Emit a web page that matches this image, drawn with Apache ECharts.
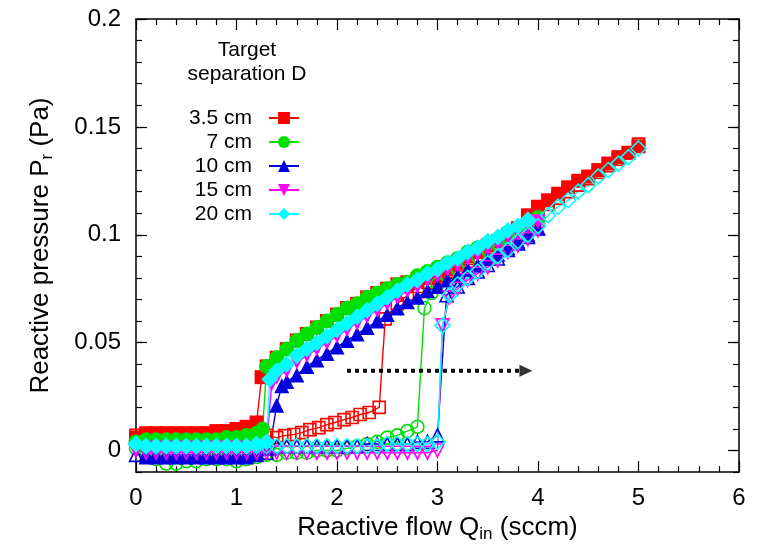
<!DOCTYPE html>
<html>
<head>
<meta charset="utf-8">
<script src="https://cdn.jsdelivr.net/npm/echarts@6/dist/echarts.min.js"></script>
<style>
  html, body { margin: 0; padding: 0; background: #fff; }
  #chart { width: 765px; height: 548px; }
</style>
</head>
<body>
<div id="chart"></div>
<script>
// Target separations (legend order) and their colours
const separations = ['3.5 cm', '7 cm', '10 cm', '15 cm', '20 cm'];
const seriesColors = ['#ff0000', '#00e000', '#0000dd', '#ff00ff', '#00ffff'];

// Axis tick values
const flowTicks = [0, 1, 2, 3, 4, 5, 6];
const pressureTicks = [0, 0.05, 0.1, 0.15, 0.2];

// [reactive flow Q_in (sccm), reactive pressure P_r (Pa)]
// "up" = increasing flow (open symbols), "down" = decreasing flow (filled symbols)
const up35 = [[0,0.007],[0.1,0.007],[0.2,0.007],[0.3,0.007],[0.4,0.007],[0.5,0.007],[0.6,0.007],[0.7,0.008],[0.8,0.008],[0.9,0.008],[1.0,0.008],[1.1,0.009],[1.2,0.009],[1.3,0.007],
  [1.40,0.006],[1.48,0.0069],[1.57,0.0074],[1.65,0.0083],[1.73,0.0097],[1.82,0.0106],[1.90,0.012],[1.98,0.013],[2.07,0.0143],[2.15,0.0153],[2.23,0.0167],[2.32,0.0176],[2.42,0.020],
  [2.48,0.061],[2.6,0.068],[2.7,0.072],[2.8,0.076],[2.9,0.078],[3.0,0.080],[3.1,0.083],[3.2,0.086],[3.3,0.089],[3.4,0.092],[3.5,0.094],[3.6,0.097],[3.7,0.100],[3.8,0.103],[3.9,0.106],
  [4.0,0.110],[4.1,0.114],[4.2,0.117],[4.3,0.120],[4.4,0.123],[4.5,0.126],[4.6,0.129],[4.7,0.132],[4.8,0.135],[4.9,0.138],[5.0,0.142]];
const down35 = [[5.0,0.141],[4.9,0.138],[4.8,0.136],[4.7,0.133],[4.6,0.130],[4.5,0.127],[4.4,0.125],[4.3,0.122],[4.2,0.119],[4.1,0.116],[4.0,0.113],[3.9,0.109],[3.8,0.103],[3.7,0.100],[3.6,0.097],[3.5,0.095],[3.4,0.092],[3.3,0.090],[3.2,0.087],[3.1,0.084],[3.0,0.081],
  [2.9,0.080],[2.8,0.079],[2.7,0.078],[2.6,0.077],[2.5,0.075],[2.4,0.073],[2.3,0.071],[2.2,0.068],[2.1,0.066],[2.0,0.063],[1.9,0.060],[1.8,0.057],[1.7,0.054],[1.6,0.051],[1.5,0.047],[1.4,0.043],[1.3,0.039],[1.25,0.034],
  [1.2,0.013],[1.1,0.011],[1.0,0.010],[0.9,0.009],[0.8,0.009],[0.7,0.008],[0.6,0.008],[0.5,0.008],[0.4,0.008],[0.3,0.008],[0.2,0.008],[0.1,0.008],[0,0.006]];

const up7 = [[0,0.001],[0.1,-0.002],[0.2,-0.004],[0.3,-0.006],[0.4,-0.006],[0.5,-0.005],[0.6,-0.005],[0.7,-0.004],[0.8,-0.004],[0.9,-0.004],[1.0,-0.005],[1.1,-0.004],[1.2,-0.003],[1.3,-0.002],
  [1.4,-0.002],[1.5,-0.001],[1.6,-0.001],[1.7,-0.001],[1.8,0.0],[1.9,0.0],[2.0,0.0],[2.1,0.001],[2.2,0.002],[2.3,0.003],[2.4,0.004],[2.5,0.006],[2.6,0.007],[2.7,0.009],[2.8,0.011],
  [2.87,0.066],[2.94,0.073],[3.0,0.077],[3.1,0.081],[3.2,0.084],[3.3,0.087],[3.4,0.090],[3.5,0.093],[3.6,0.096],[3.7,0.099],[3.8,0.101],[3.9,0.104],[4.0,0.107]];
const down7 = [[4.0,0.108],[3.9,0.105],[3.8,0.103],[3.7,0.101],[3.6,0.098],[3.5,0.096],[3.4,0.094],[3.3,0.092],[3.2,0.089],[3.1,0.087],[3.0,0.085],[2.9,0.083],[2.8,0.081],[2.7,0.078],[2.6,0.077],[2.5,0.075],
  [2.4,0.073],[2.3,0.071],[2.2,0.068],[2.1,0.066],[2.0,0.063],[1.9,0.060],[1.8,0.057],[1.7,0.054],[1.6,0.051],[1.5,0.047],[1.4,0.043],[1.3,0.039],
  [1.26,0.010],[1.2,0.008],[1.1,0.007],[1.0,0.006],[0.9,0.006],[0.8,0.005],[0.7,0.005],[0.6,0.005],[0.5,0.005],[0.4,0.005],[0.3,0.005],[0.2,0.005],[0.1,0.005],[0,0.004]];

const up10 = [[0,-0.002],[0.1,-0.002],[0.2,-0.002],[0.3,-0.002],[0.4,-0.002],[0.5,-0.002],[0.6,-0.002],[0.7,-0.002],[0.8,-0.002],[0.9,-0.002],[1.0,-0.002],[1.1,-0.002],[1.2,-0.001],[1.3,-0.001],
  [1.4,0.002],[1.5,0.002],[1.6,0.002],[1.7,0.002],[1.8,0.002],[1.9,0.002],[2.0,0.002],[2.1,0.002],[2.2,0.002],[2.3,0.003],[2.4,0.003],[2.5,0.003],[2.6,0.003],[2.7,0.003],[2.8,0.004],[2.9,0.004],[3.0,0.007],
  [3.09,0.072],[3.2,0.076],[3.3,0.080],[3.4,0.083],[3.5,0.086],[3.6,0.089],[3.7,0.093],[3.8,0.096],[3.9,0.099],[4.0,0.103]];
const down10 = [[4.0,0.103],[3.9,0.100],[3.8,0.097],[3.7,0.094],[3.6,0.091],[3.5,0.089],[3.4,0.086],[3.3,0.084],[3.2,0.081],[3.1,0.079],[3.0,0.076],[2.9,0.074],[2.8,0.071],[2.7,0.069],[2.6,0.066],[2.5,0.063],
  [2.4,0.060],[2.3,0.057],[2.2,0.054],[2.1,0.051],[2.0,0.048],[1.9,0.045],[1.8,0.042],[1.7,0.039],[1.6,0.035],[1.5,0.032],[1.45,0.030],[1.40,0.021],[1.33,0.001],
  [1.2,-0.002],[1.1,-0.003],[1.0,-0.003],[0.9,-0.003],[0.8,-0.003],[0.7,-0.003],[0.6,-0.003],[0.5,-0.003],[0.4,-0.003],[0.3,-0.003],[0.2,-0.003],[0.1,-0.003]];

const up15 = [[0,0.0],[0.1,-0.001],[0.2,-0.001],[0.3,-0.001],[0.4,-0.001],[0.5,-0.001],[0.6,-0.001],[0.7,-0.001],[0.8,-0.001],[0.9,-0.001],[1.0,-0.001],[1.1,-0.001],[1.2,-0.001],[1.3,-0.001],
  [1.4,-0.001],[1.5,-0.001],[1.6,-0.001],[1.7,-0.001],[1.8,-0.001],[1.9,-0.001],[2.0,-0.001],[2.1,-0.001],[2.2,-0.001],[2.3,-0.001],[2.4,-0.001],[2.5,-0.001],[2.6,-0.001],[2.7,-0.001],[2.8,-0.001],[2.9,-0.001],[3.0,0.0],
  [3.05,0.058],[3.12,0.071],[3.2,0.075],[3.3,0.079],[3.4,0.082],[3.5,0.085],[3.6,0.088],[3.7,0.092],[3.8,0.095],[3.9,0.098],[4.0,0.102]];
const down15 = [[4.0,0.106],[3.9,0.104],[3.8,0.101],[3.7,0.099],[3.6,0.096],[3.5,0.094],[3.4,0.091],[3.3,0.089],[3.2,0.086],[3.1,0.084],[3.0,0.081],[2.9,0.079],[2.8,0.076],[2.7,0.074],[2.6,0.071],[2.5,0.068],
  [2.4,0.065],[2.3,0.062],[2.2,0.059],[2.1,0.056],[2.0,0.053],[1.9,0.050],[1.8,0.047],[1.7,0.044],[1.6,0.041],[1.5,0.037],[1.4,0.034],[1.35,0.031],
  [1.3,0.002],[1.2,0.001],[1.1,0.001],[1.0,0.001],[0.9,0.001],[0.8,0.001],[0.7,0.001],[0.6,0.001],[0.5,0.001],[0.4,0.001],[0.3,0.001],[0.2,0.001],[0.1,0.001],[0,0.001]];

const up20 = [[0,0.003],[0.1,0.002],[0.2,0.002],[0.3,0.002],[0.4,0.002],[0.5,0.002],[0.6,0.002],[0.7,0.002],[0.8,0.002],[0.9,0.002],[1.0,0.002],[1.1,0.002],[1.2,0.002],[1.3,0.002],
  [1.4,0.002],[1.5,0.002],[1.6,0.002],[1.7,0.002],[1.8,0.002],[1.9,0.002],[2.0,0.002],[2.1,0.002],[2.2,0.002],[2.3,0.002],[2.4,0.002],[2.5,0.003],[2.6,0.003],[2.7,0.003],[2.8,0.003],[2.9,0.003],[3.0,0.004],
  [3.05,0.058],[3.12,0.072],[3.2,0.077],[3.3,0.080],[3.4,0.083],[3.5,0.087],[3.6,0.090],[3.7,0.093],[3.8,0.097],[3.9,0.100],[4.0,0.104],
  [4.1,0.109],[4.2,0.113],[4.3,0.116],[4.4,0.120],[4.5,0.123],[4.6,0.127],[4.7,0.130],[4.8,0.133],[4.9,0.136],[5.0,0.140]];
const down20 = [[3.9,0.107],[3.8,0.104],[3.7,0.102],[3.6,0.099],[3.5,0.097],[3.4,0.094],[3.3,0.092],[3.2,0.089],[3.1,0.087],[3.0,0.084],[2.9,0.082],[2.8,0.079],[2.7,0.077],[2.6,0.074],[2.5,0.071],
  [2.4,0.068],[2.3,0.065],[2.2,0.062],[2.1,0.059],[2.0,0.056],[1.9,0.053],[1.8,0.050],[1.7,0.047],[1.6,0.044],[1.5,0.040],[1.4,0.037],[1.33,0.033],
  [1.3,0.004],[1.2,0.003],[1.1,0.002],[1.0,0.002],[0.9,0.002],[0.8,0.002],[0.7,0.002],[0.6,0.002],[0.5,0.002],[0.4,0.002],[0.3,0.002],[0.2,0.002],[0.1,0.002],[0,0.003]];

// Dotted arrow showing the shift of the transition with distance
const arrowFlow = [2.1, 3.82];
const arrowHeadFlow = 3.88;
const arrowLevel = 0.037;

const upData = [up35, up7, up10, up15, up20];
const downData = [down35, down7, down10, down15, down20];
const symbols = ['rect', 'circle', 'triangle', 'triangle', 'diamond'];
const symbolRotations = [0, 0, 0, 180, 0];
const symbolSizes = [14, 15, 15, 15, 17];

const FONT = 'Liberation Sans, Arial, sans-serif';

function curve(name, data, i, filled) {
  const c = seriesColors[i];
  return {
    name: name,
    type: 'line',
    data: data,
    xAxisIndex: 0,
    yAxisIndex: 0,
    symbol: symbols[i],
    symbolRotate: symbolRotations[i],
    symbolSize: filled ? symbolSizes[i] : symbolSizes[i] - 2,
    showAllSymbol: true,
    animation: false,
    lineStyle: { color: c, width: 1.4 },
    itemStyle: filled
      ? { color: c, borderColor: c, borderWidth: 0 }
      : { color: 'rgba(255,255,255,0)', borderColor: c, borderWidth: 1.6 },
    emphasis: { disabled: true },
    z: 2
  };
}

const series = [];
separations.forEach((name, i) => {
  series.push(curve(name + ' (up)', upData[i], i, false));
  series.push(curve(name, downData[i], i, true));
});

series.push({
  name: 'shift',
  type: 'line',
  data: [[arrowFlow[0], arrowLevel], [arrowFlow[1], arrowLevel]],
  symbol: 'none',
  lineStyle: { color: '#000', width: 4, type: [4, 4] },
  animation: false,
  z: 5
});
series.push({
  name: 'shift head',
  type: 'scatter',
  data: [[arrowHeadFlow, arrowLevel]],
  symbol: 'triangle',
  symbolRotate: -90,
  symbolSize: [12, 13],
  itemStyle: { color: '#000' },
  animation: false,
  z: 5
});

const axisLine = { show: true, onZero: false, lineStyle: { color: '#000', width: 1.5 } };

function fmtP(v) { return String(Math.round(v * 100) / 100); }

const chart = echarts.init(document.getElementById('chart'), null, { renderer: 'canvas' });
chart.setOption({
  backgroundColor: '#fff',
  animation: false,
  title: {
    text: 'Target\nseparation D',
    left: 242,
    top: 33,
    textAlign: 'center',
    textStyle: { fontFamily: FONT, fontSize: 21, fontWeight: 'normal', color: '#000', lineHeight: 24 }
  },
  legend: {
    data: separations,
    orient: 'vertical',
    align: 'right',
    left: 184,
    top: 101,
    itemWidth: 30,
    itemHeight: 15,
    itemGap: 0,
    selectedMode: false,
    textStyle: { fontFamily: FONT, fontSize: 21, color: '#000', lineHeight: 24, padding: [0, 12, 0, 0] }
  },
  grid: { left: 136, right: 26, top: 19, bottom: 75, show: false },
  xAxis: [
    {
      type: 'value', position: 'bottom', min: 0, max: 6, interval: 1,
      name: '{t|Reactive flow Q}{s|in}{t| (sccm)}',
      nameLocation: 'middle', nameGap: 40,
      nameTextStyle: {
        rich: {
          t: { fontFamily: FONT, fontSize: 26, color: '#000', lineHeight: 30 },
          s: { fontFamily: FONT, fontSize: 17, color: '#000', lineHeight: 10, verticalAlign: 'bottom' }
        }
      },
      axisLine: axisLine,
      axisTick: { inside: true, length: 11, lineStyle: { color: '#000', width: 1.2 } },
      minorTick: { show: true, splitNumber: 5, length: 6, lineStyle: { color: '#000', width: 1.2 } },
      axisLabel: { fontFamily: FONT, fontSize: 24, color: '#000', margin: 14 },
      splitLine: { show: false }
    },
    {
      type: 'value', position: 'top', min: 0, max: 6, interval: 1,
      axisLine: axisLine,
      axisTick: { inside: true, length: 11, lineStyle: { color: '#000', width: 1.2 } },
      minorTick: { show: true, splitNumber: 5, length: 6, lineStyle: { color: '#000', width: 1.2 } },
      axisLabel: { show: false },
      splitLine: { show: false }
    }
  ],
  yAxis: [
    {
      type: 'value', position: 'left', min: -0.01, max: 0.2,
      name: '{t|Reactive pressure P}{s|r}{t| (Pa)}',
      nameLocation: 'middle', nameGap: 80,
      nameTextStyle: {
        rich: {
          t: { fontFamily: FONT, fontSize: 26, color: '#000', lineHeight: 30 },
          s: { fontFamily: FONT, fontSize: 17, color: '#000', lineHeight: 10, verticalAlign: 'bottom' }
        }
      },
      axisLine: axisLine,
      axisTick: { inside: true, length: 11, customValues: pressureTicks, lineStyle: { color: '#000', width: 1.2 } },
      axisLabel: { fontFamily: FONT, fontSize: 24, color: '#000', margin: 15, customValues: pressureTicks, formatter: fmtP },
      splitLine: { show: false }
    },
    {
      type: 'value', position: 'left', min: -0.01, max: 0.2, interval: 0.01,
      axisLine: { show: false, onZero: false },
      axisTick: { inside: true, length: 6, lineStyle: { color: '#000', width: 1.2 } },
      axisLabel: { show: false },
      splitLine: { show: false }
    },
    {
      type: 'value', position: 'right', min: -0.01, max: 0.2,
      axisLine: axisLine,
      axisTick: { inside: true, length: 11, customValues: pressureTicks, lineStyle: { color: '#000', width: 1.2 } },
      axisLabel: { show: false },
      splitLine: { show: false }
    },
    {
      type: 'value', position: 'right', min: -0.01, max: 0.2, interval: 0.01,
      axisLine: { show: false, onZero: false },
      axisTick: { inside: true, length: 6, lineStyle: { color: '#000', width: 1.2 } },
      axisLabel: { show: false },
      splitLine: { show: false }
    }
  ],
  series: series
});
</script>
</body>
</html>
